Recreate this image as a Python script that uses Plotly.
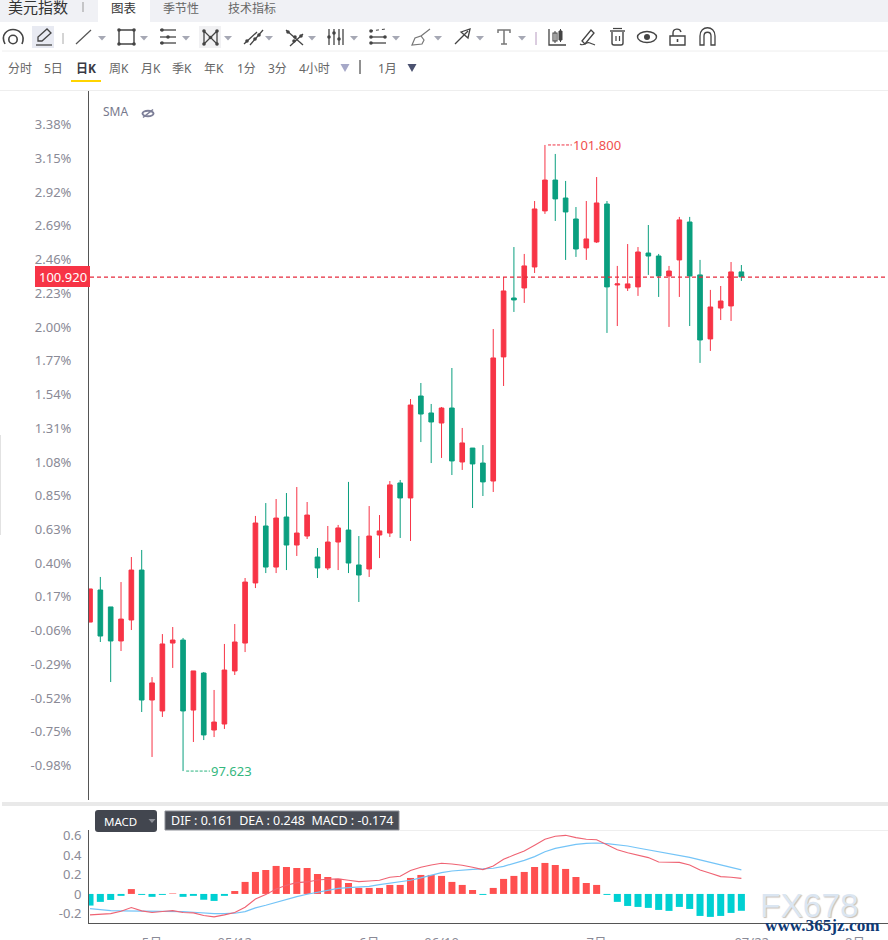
import re
import plotly.graph_objects as go

# ---------- data ----------
candle_index = list(range(64))
open_price = [
    98.617, 98.831, 98.718, 98.491, 98.631, 98.964, 98.097, 98.024, 98.477, 98.497,
    98.030, 98.277, 97.897, 97.937, 98.291, 98.477, 98.878, 99.258, 98.984, 99.318,
    99.131, 99.191, 99.051, 98.978, 99.151, 99.231, 98.998, 98.971, 99.198, 99.211,
    99.545, 99.445, 100.125, 100.012, 99.945, 100.045, 99.685, 99.778, 99.678, 99.558,
    100.386, 100.779, 100.846, 100.986, 101.360, 101.566, 101.446, 101.306, 101.113, 101.153,
    101.406, 100.866, 100.846, 100.853, 101.079, 101.059, 100.926, 101.033, 101.286, 100.933,
    100.506, 100.712, 100.726, 100.953,
]
high_price = [
    98.838, 98.918, 98.718, 98.884, 99.051, 99.098, 98.250, 98.537, 98.584, 98.511,
    98.291, 98.284, 98.164, 98.471, 98.604, 98.911, 99.325, 99.411, 99.438, 99.478,
    99.518, 99.418, 99.111, 99.258, 99.265, 99.552, 99.191, 99.391, 99.331, 99.558,
    99.565, 100.105, 100.212, 100.072, 100.052, 100.312, 99.912, 99.778, 99.798, 100.572,
    100.919, 101.119, 101.073, 101.426, 101.800, 101.740, 101.560, 101.386, 101.426, 101.586,
    101.426, 100.993, 101.139, 101.119, 101.266, 101.073, 100.993, 101.320, 101.320, 101.033,
    100.833, 100.859, 101.019, 100.999,
]
low_price = [
    98.617, 98.484, 98.217, 98.424, 98.564, 98.017, 97.717, 97.984, 98.311, 97.623,
    97.817, 97.830, 97.850, 97.904, 98.264, 98.417, 98.844, 98.944, 98.944, 98.964,
    99.058, 99.171, 98.911, 98.964, 98.964, 98.944, 98.751, 98.918, 99.044, 99.185,
    99.178, 99.158, 99.818, 99.678, 99.712, 99.598, 99.632, 99.378, 99.458, 99.485,
    100.192, 100.686, 100.746, 100.946, 101.340, 101.293, 101.033, 101.053, 101.033, 101.146,
    100.546, 100.592, 100.826, 100.793, 100.933, 100.786, 100.586, 100.786, 100.592, 100.346,
    100.426, 100.632, 100.626, 100.893,
]
close_price = [
    98.838, 98.524, 98.491, 98.637, 98.964, 98.097, 98.211, 98.471, 98.497, 98.024,
    98.291, 97.864, 97.950, 98.297, 98.484, 98.884, 99.278, 98.984, 99.311, 99.131,
    99.211, 99.331, 98.978, 99.151, 99.245, 99.011, 98.931, 99.191, 99.225, 99.532,
    99.445, 100.065, 100.005, 99.952, 100.045, 99.692, 99.812, 99.672, 99.552, 100.379,
    100.826, 100.766, 100.993, 101.373, 101.566, 101.440, 101.353, 101.106, 101.173, 101.413,
    100.853, 100.873, 100.873, 101.086, 101.059, 100.926, 100.959, 101.300, 100.926, 100.499,
    100.719, 100.759, 100.953, 100.920,
]
macd_bar = [
    -0.120, -0.082, -0.062, -0.020, 0.050, -0.010, -0.030, -0.010, 0.005, -0.030,
    -0.020, -0.060, -0.072, -0.020, 0.030, 0.124, 0.227, 0.247, 0.289, 0.278,
    0.268, 0.268, 0.206, 0.175, 0.155, 0.113, 0.062, 0.062, 0.062, 0.093,
    0.093, 0.165, 0.196, 0.196, 0.186, 0.124, 0.093, 0.041, -0.010, 0.062,
    0.155, 0.186, 0.227, 0.278, 0.320, 0.299, 0.258, 0.175, 0.113, 0.093,
    -0.010, -0.082, -0.124, -0.134, -0.144, -0.165, -0.175, -0.134, -0.155, -0.227,
    -0.237, -0.227, -0.196, -0.174,
]
dif_line = [
    -0.216, -0.210, -0.203, -0.179, -0.141, -0.175, -0.192, -0.182, -0.172, -0.192,
    -0.196, -0.223, -0.237, -0.216, -0.192, -0.137, -0.052, -0.007, 0.052, 0.089,
    0.117, 0.124, 0.144, 0.151, 0.155, 0.141, 0.127, 0.134, 0.141, 0.172,
    0.182, 0.241, 0.275, 0.299, 0.316, 0.309, 0.296, 0.275, 0.251, 0.289,
    0.357, 0.402, 0.443, 0.502, 0.564, 0.595, 0.605, 0.581, 0.564, 0.560,
    0.505, 0.457, 0.426, 0.402, 0.375, 0.330, 0.326, 0.326, 0.299, 0.247,
    0.213, 0.179, 0.172, 0.161,
]
dea_line = [
    -0.151, -0.165, -0.172, -0.175, -0.175, -0.175, -0.179, -0.175, -0.175, -0.182,
    -0.189, -0.199, -0.203, -0.203, -0.199, -0.182, -0.144, -0.117, -0.086, -0.055,
    -0.027, -0.003, 0.017, 0.041, 0.058, 0.065, 0.072, 0.079, 0.096, 0.110,
    0.127, 0.141, 0.165, 0.192, 0.220, 0.237, 0.247, 0.254, 0.258, 0.265,
    0.285, 0.313, 0.347, 0.385, 0.436, 0.471, 0.495, 0.512, 0.522, 0.526,
    0.519, 0.509, 0.495, 0.474, 0.454, 0.436, 0.416, 0.399, 0.378, 0.351,
    0.326, 0.299, 0.271, 0.248,
]
pct_labels = ["3.38%", "3.15%", "2.92%", "2.69%", "2.46%", "2.23%", "2.00%", "1.77%", "1.54%", "1.31%",
              "1.08%", "0.85%", "0.63%", "0.40%", "0.17%", "-0.06%", "-0.29%", "-0.52%", "-0.75%", "-0.98%"]
pct_prices = [101.935, 101.710, 101.485, 101.260, 101.035, 100.810, 100.585, 100.360, 100.135, 99.910,
              99.685, 99.460, 99.235, 99.010, 98.785, 98.560, 98.335, 98.110, 97.885, 97.660]
date_ticks = [6, 14, 27, 34, 49, 64, 74]
date_labels = ["5月", "05/12", "6月", "06/10", "7月", "07/22", "8月"]
macd_ticks = [-0.2, 0, 0.2, 0.4, 0.6]
macd_tick_labels = ["-0.2", "0", "0.2", "0.4", "0.6"]
last_price = close_price[-1]
legend_text = "DIF : 0.161\u00a0\u00a0DEA : 0.248\u00a0\u00a0MACD : -0.174"

# ---------- page helpers (pixel -> paper) ----------
W, H = 888, 940
RED, GREEN = "#f73446", "#0a9f7f"
FONT = "Noto Sans, Noto Sans CJK SC, sans-serif"
TXT = "#666a70"
shapes, notes = [], []


def pxx(x):
    return x / W


def pxy(y):
    return 1 - y / H


def path(s, color="#444", w=1.3, fill=None):
    conv = re.sub(r"(-?[\d.]+),(-?[\d.]+)",
                  lambda m: f"{pxx(float(m[1])):.5f},{pxy(float(m[2])):.5f}", s)
    shapes.append(dict(type="path", path=conv, xref="paper", yref="paper",
                       line=dict(color=color, width=w), fillcolor=fill or "rgba(0,0,0,0)", layer="above"))


def rect(x0, y0, x1, y1, fill, line=None, w=0):
    shapes.append(dict(type="rect", xref="paper", yref="paper", x0=pxx(x0), x1=pxx(x1), y0=pxy(y0), y1=pxy(y1),
                       fillcolor=fill, line=dict(color=line or "rgba(0,0,0,0)", width=w), layer="above"))


def ln(x0, y0, x1, y1, color="#444", w=1.3, dash="solid"):
    shapes.append(dict(type="line", xref="paper", yref="paper", x0=pxx(x0), x1=pxx(x1), y0=pxy(y0), y1=pxy(y1),
                       line=dict(color=color, width=w, dash=dash), layer="above"))


def oval(cx, cy, rx, ry, color="#444", w=1.3, fill=None):
    shapes.append(dict(type="circle", xref="paper", yref="paper", x0=pxx(cx - rx), x1=pxx(cx + rx),
                       y0=pxy(cy - ry), y1=pxy(cy + ry), fillcolor=fill or "rgba(0,0,0,0)",
                       line=dict(color=color, width=w), layer="above"))


def dot(x, y, r=1.8, color="#444"):
    oval(x, y, r, r, color, 0, color)


def tri(x, y, color="#a6a8b4", half=4, h=4.5):
    path(f"M{x - half},{y} L{x + half},{y} L{x},{y + h} Z", color, 0, color)


def txt(x, y, s, size=12, color=TXT, anchor="left", family=FONT, **kw):
    notes.append(dict(xref="paper", yref="paper", x=pxx(x), y=pxy(y), text=s, showarrow=False,
                      xanchor=anchor, yanchor="middle", borderpad=0, borderwidth=0,
                      font=dict(size=size, color=color, family=family, **kw)))


# top tab band
rect(0, 0, W, 22, "#f0f1f5")
rect(98, 0, 150, 22, "#ffffff")
txt(8, 7, "美元指数", 15, "#333")
ln(83, 2, 83, 12, "#999", 1)
txt(124, 8, "图表", 12.5, "#333", "center")
txt(181, 8, "季节性", 12, "#666", "center")
txt(252, 8, "技术指标", 12, "#666", "center")

# drawing toolbar
oval(13, 39.5, 4.2, 4.2, "#444", 1.6)
path("M5,44 C0,34 8,29.5 13,29.5 C18,29.5 26,34 22,44", "#444", 1.6)
rect(32, 26, 54, 48, "#e8eaf2")
path("M38,41 L38,37 L47,29 L51,33 L42,41 Z", "#444", 1.3)
ln(36, 45, 52, 45, "#444", 1.3)
ln(63, 33, 63, 44, "#aaa", 1)
ln(76, 44, 91, 30, "#555", 1.2)
tri(102, 36)
rect(119, 30, 134, 44, "rgba(0,0,0,0)", "#444", 1.4)
for px_, py_ in [(119, 30), (134, 30), (119, 44), (134, 44)]:
    dot(px_, py_)
tri(144, 36)
for py_ in (30, 37, 43):
    ln(160, py_, 176, py_, "#444", 1.3)
dot(162, 30), dot(168, 37), dot(162, 43)
tri(186, 36)
rect(199, 26, 221, 48, "#f1f1f3")
path("M204,44 L204,31 L217,44 L217,31 M217,31 L204,44", "#444", 1.3)
for px_, py_ in [(204, 31), (204, 44), (217, 31), (217, 44), (210.5, 37.5)]:
    dot(px_, py_)
tri(228, 36)
ln(244, 44, 257, 32, "#444", 1.3), ln(250, 45, 263, 30, "#444", 1.3)
dot(247, 41), dot(255, 39), dot(259, 35)
tri(269, 36)
ln(286, 30, 303, 45, "#444", 1.3), ln(290, 46, 303, 34, "#444", 1.3)
dot(288, 32), dot(294, 41), dot(301, 36), dot(295, 37)
tri(312, 36)
for px_ in (329, 334, 339, 343):
    ln(px_, 29, px_, 45, "#444", 1.3)
dot(329, 37), dot(334, 33), dot(339, 39)
tri(354, 36)
ln(370, 31, 386, 29, "#444", 1, "dot")
ln(370, 37, 386, 37, "#444", 1.3), ln(370, 43, 386, 43, "#444", 1.3)
dot(371, 31), dot(371, 37), dot(371, 43), dot(385, 37)
tri(396, 36)
path("M412,45 L415,38 L421,36 L424,40 L422,44 Z M421,36 L430,29", "#777", 1.2)
tri(438, 36)
path("M455,44 L468,31 M461,32 L470,29 L468,38 Z", "#444", 1.3)
tri(480, 36)
path("M498,33 L498,30 L510,30 L510,33 M504,30 L504,44 M501,44 L507,44", "#777", 1.5)
tri(522, 36)
ln(536, 32, 536, 45, "#b79ac0", 1)
path("M549,29 L549,45 L566,45", "#444", 1.3)
rect(553, 33, 557, 41, "rgba(0,0,0,0)", "#444", 1.1)
rect(559, 31, 562, 40, "#444", "#444", 1)
ln(555, 31, 555, 43, "#444", 1), ln(560.5, 29, 560.5, 42, "#444", 1)
path("M582,41 L591,30 L594,33 L585,44 Z", "#444", 1.3)
path("M580,44 C584,47 586,41 590,43 C592,44 593,44 595,45", "#444", 1.1)
ln(610, 31, 625, 31, "#444", 1.4), ln(613, 28.5, 622, 28.5, "#444", 1.2)
path("M612,32 L612,43 C612,45 613,45 614,45 L621,45 C622,45 623,45 623,43 L623,32", "#444", 1.4)
ln(616, 36, 616, 41, "#444", 1.2), ln(619.5, 36, 619.5, 41, "#444", 1.2)
oval(647, 37, 9.5, 5.5, "#444", 1.4)
dot(647, 37, 3)
rect(670, 36, 685, 45, "rgba(0,0,0,0)", "#444", 1.4)
path("M673,36 L673,33 C673,28 680,28 681,32", "#444", 1.4)
ln(677.5, 39, 677.5, 42, "#444", 1.6)
path("M700,45 L700,36 C700,25 715,25 715,36 L715,45 L711,45 L711,36 C711,31 704,31 704,36 L704,45 Z", "#444", 1.3)
ln(2, 51, W, 51, "#eeeeee", 1)

# period row
for cx, label in [(19.5, "分时"), (53, "5日"), (118.5, "周K"), (150.5, "月K"), (182, "季K"), (214, "年K"),
                  (246, "1分"), (277, "3分"), (314, "4小时"), (387.5, "1月")]:
    txt(cx, 68, label, 12, "#666", "center")
txt(86, 68, "<b>日K</b>", 12, "#3a3a44", "center")
ln(71, 81, 101, 81, "#ffd400", 2)
path("M340.5,64 L349.5,64 L345,72 Z", "#a6a8c8", 0, "#a6a8c8")
ln(360, 60, 360, 74, "#222", 1)
path("M407.5,64 L416.5,64 L412,72 Z", "#4b5270", 0, "#4b5270")
ln(0, 90.5, W, 90.5, "#eeeeee", 1)
ln(0.5, 435, 0.5, 535, "#e2e2e2", 1)

# indicator legend on main pane
txt(103, 112, "SMA", 12, "#77798c")
oval(148, 113.5, 5.5, 2.8, "#7d7f98", 2)
ln(143, 117.5, 153, 109.5, "#7d7f98", 1.6)

# current price tag
rect(35, 266, 90, 287, "#f73446")
txt(62.5, 276.5, "100.920", 13, "#ffffff", "center")

# separators and MACD header
rect(2, 802, W, 806, "#e9e9e9")
path("M98,810 L154,810 Q157,810 157,813 L157,829 Q157,832 154,832 L98,832 Q95,832 95,829 L95,813 Q95,810 98,810 Z",
     "#42464f", 0, "#42464f")
txt(120, 821.5, "MACD", 11.5, "#ffffff", "center")
tri(152, 819, "#8d9098", 3.5, 4)
rect(165, 811, 399, 830, "#4a4e57", "#8d9098", 1)
txt(282, 820.5, legend_text, 12.5, "#ffffff", "center")
ln(399, 830.5, W, 830.5, "#eeeeee", 1)

# watermark
txt(809, 905, "FX678", 33.5, "#dbe6f2", "center", "Liberation Sans", shadow="1px 1px 1px #c9c0b8")
txt(822.5, 925, "<b>www.365jz.com</b>", 17.2, "#0f3a75", "center", "Liberation Serif")

# ---------- figure ----------
hi_i = high_price.index(max(high_price))
lo_i = low_price.index(min(low_price))
fig = go.Figure()
fig.add_trace(go.Candlestick(
    x=candle_index, open=open_price, high=high_price, low=low_price, close=close_price,
    xaxis="x", yaxis="y", whiskerwidth=0, showlegend=False, hoverinfo="skip",
    increasing=dict(line=dict(color=RED, width=1), fillcolor=RED),
    decreasing=dict(line=dict(color=GREEN, width=1), fillcolor=GREEN),
))
fig.add_trace(go.Bar(
    x=candle_index, y=macd_bar, xaxis="x2", yaxis="y2", width=0.68, showlegend=False, hoverinfo="skip",
    marker=dict(color=["#ff5050" if v >= 0 else "#00d0d2" for v in macd_bar], line=dict(width=0)),
))
fig.add_trace(go.Scatter(x=candle_index, y=dea_line, mode="lines", xaxis="x2", yaxis="y2", showlegend=False,
                         hoverinfo="skip", line=dict(color="#74c4f7", width=1.2)))
fig.add_trace(go.Scatter(x=candle_index, y=dif_line, mode="lines", xaxis="x2", yaxis="y2", showlegend=False,
                         hoverinfo="skip", line=dict(color="#ef6373", width=1.1)))

# value-anchored marks
shapes.append(dict(type="line", xref="x", yref="y", x0=0, x1=77, y0=last_price - 0.002, y1=last_price - 0.002,
                   line=dict(color="#e62a3c", width=1.1, dash="4px,3px"), layer="above"))
shapes.append(dict(type="line", xref="x", yref="y", x0=hi_i + 0.3, x1=hi_i + 2.6, y0=high_price[hi_i], y1=high_price[hi_i],
                   line=dict(color="#ee3344", width=1, dash="3px,1.5px"), layer="above"))
shapes.append(dict(type="line", xref="x", yref="y", x0=lo_i + 0.3, x1=lo_i + 2.6, y0=low_price[lo_i], y1=low_price[lo_i],
                   line=dict(color="#2bb37f", width=1, dash="3px,1.5px"), layer="above"))
notes.append(dict(xref="x", yref="y", x=hi_i + 2.65, y=high_price[hi_i], text=f"{high_price[hi_i]:.3f}", showarrow=False,
                  xanchor="left", yanchor="middle", borderpad=0, font=dict(size=13, color="#f0504e", family=FONT)))
notes.append(dict(xref="x", yref="y", x=lo_i + 2.65, y=low_price[lo_i], text=f"{low_price[lo_i]:.3f}", showarrow=False,
                  xanchor="left", yanchor="middle", borderpad=0, font=dict(size=13, color="#34b77e", family=FONT)))

x_range = [-0.097, 77.18]
fig.update_layout(
    width=W, height=H, autosize=False, margin=dict(l=0, r=0, t=0, b=0, autoexpand=False),
    paper_bgcolor="white", plot_bgcolor="white", boxgap=0.36, bargap=0.3, dragmode=False,
    hovermode=False, shapes=shapes, annotations=notes, font=dict(family=FONT),
    xaxis=dict(domain=[89 / W, 1], range=x_range, anchor="y", showgrid=False, zeroline=False, automargin=False,
               showticklabels=False, ticks="", rangeslider=dict(visible=False), fixedrange=True),
    yaxis=dict(domain=[1 - 800 / H, 1 - 91 / H], range=[97.430, 102.160], anchor="x", showgrid=False, zeroline=False,
               automargin=False, tickmode="array", tickvals=pct_prices, ticktext=pct_labels, showline=True,
               linecolor="#555", linewidth=1, ticks="", ticklabelstandoff=14,
               tickfont=dict(size=13, color="#8a8a96", family=FONT), fixedrange=True),
    xaxis2=dict(domain=[89 / W, 1], range=x_range, anchor="y2", showgrid=False, zeroline=False, showline=True,
                automargin=False, linecolor="#555", linewidth=1, tickmode="array", tickvals=date_ticks,
                ticktext=date_labels, ticks="", ticklabelstandoff=7,
                tickfont=dict(size=13, color="#8a8a96", family=FONT), fixedrange=True),
    yaxis2=dict(domain=[1 - 923 / H, 1 - 830 / H], range=[-0.30, 0.66], anchor="x2", showgrid=False, zeroline=False,
                automargin=False, tickmode="array", tickvals=macd_ticks, ticktext=macd_tick_labels, showline=True,
                linecolor="#555", linewidth=1, ticks="", ticklabelstandoff=4,
                tickfont=dict(size=13, color="#8a8a96", family=FONT), fixedrange=True),
)
fig.write_html("out.html", config=dict(displayModeBar=False, staticPlot=True),
               post_script="document.body.style.margin='0';document.body.style.overflow='hidden';")
